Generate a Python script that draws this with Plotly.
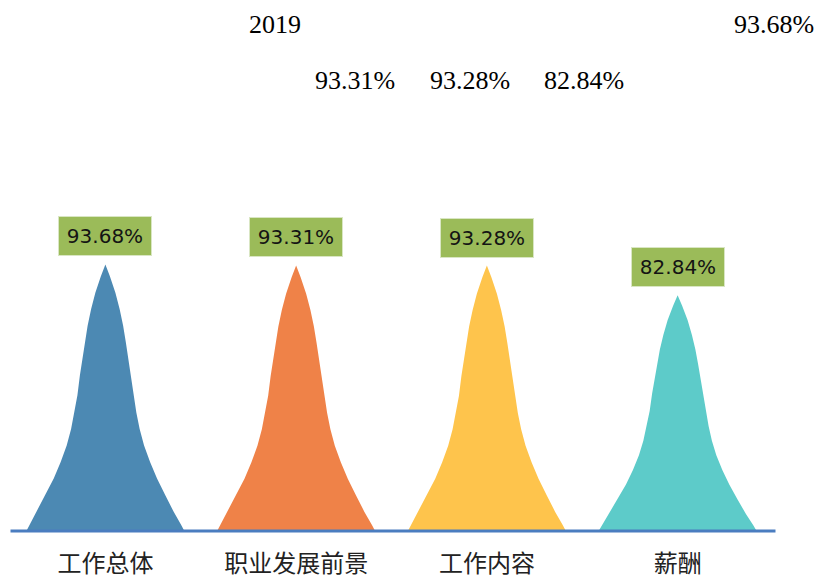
import plotly.graph_objects as go

# data
categories = ["工作总体", "职业发展前景", "工作内容", "薪酬"]
values = [93.68, 93.31, 93.28, 82.84]
labels = ["93.68%", "93.31%", "93.28%", "82.84%"]
colors = ["#4C89B3", "#EF8248", "#FEC44C", "#5DCBC9"]

# stray text at the top of the page
year_text = "2019"
top_right_text = "93.68%"
row_texts = ["93.31%", "93.28%", "82.84%"]

# peak outline (style only): relative height -> relative half width
peak_h = [0.0, 0.022, 0.072, 0.134, 0.197, 0.259, 0.321, 0.383, 0.445, 0.509,
          0.583, 0.646, 0.708, 0.770, 0.832, 0.894, 0.956, 1.0]
peak_w = [1.0, 0.962, 0.865, 0.759, 0.654, 0.566, 0.490, 0.434, 0.392, 0.354,
          0.323, 0.291, 0.259, 0.225, 0.181, 0.127, 0.057, 0.0]
half_width = 0.414

fig = go.Figure()

for i, (v, c) in enumerate(zip(values, colors)):
    xs = [i - w * half_width for w in peak_w] + [i + w * half_width for w in reversed(peak_w[:-1])]
    ys = [h * v for h in peak_h] + [h * v for h in reversed(peak_h[:-1])]
    fig.add_trace(go.Scatter(x=xs, y=ys, mode="lines", fill="toself",
                             fillcolor=c, line=dict(color=c, width=0),
                             hoverinfo="skip", showlegend=False))

for i, (v, t) in enumerate(zip(values, labels)):
    fig.add_annotation(x=i, y=v, text=t, showarrow=False, yanchor="bottom", yshift=8,
                       font=dict(family="DejaVu Sans", size=20, color="#141414"),
                       bgcolor="#9BBB59", bordercolor="#D9E6C3", borderwidth=1,
                       borderpad=7, width=78)

# page body has an 8px margin, so the figure is laid out in page pixels minus 8
OFF = 8
W, H = 826, 582
L, R, T, B = 9.5 - OFF, 60.5, 218 - OFF, 58.5


def px(x):
    return (x - OFF - L) / (W - L - R)


def py(y):
    return (H - B - (y - OFF)) / (H - T - B)


serif = dict(family="Liberation Serif, Times New Roman, serif", size=26, color="#000000")
fig.add_annotation(x=px(275), y=py(OFF), xref="paper", yref="paper", text=year_text,
                   showarrow=False, font=serif, xanchor="center", yanchor="top")
fig.add_annotation(x=px(775), y=py(OFF), xref="paper", yref="paper", text=top_right_text,
                   showarrow=False, font=serif, xanchor="center", yanchor="top")
for xc, t in zip([355, 470, 584], row_texts):
    fig.add_annotation(x=px(xc), y=py(80), xref="paper", yref="paper", text=t,
                       showarrow=False, font=serif, xanchor="center", yanchor="middle")

fig.update_layout(
    width=W, height=H,
    margin=dict(l=L, r=R, t=T, b=B, pad=0),
    paper_bgcolor="white", plot_bgcolor="white",
    xaxis=dict(range=[-0.5, 3.5], tickvals=list(range(len(categories))), ticktext=categories,
               showgrid=False, zeroline=False, showline=False, ticks="",
               tickfont=dict(family="Noto Sans CJK SC", size=24, color="#222222"),
               ticklabelstandoff=16, fixedrange=True),
    yaxis=dict(range=[0, 110], showgrid=False, zeroline=False, showline=False,
               showticklabels=False, fixedrange=True),
    shapes=[dict(type="line", xref="paper", yref="paper", x0=px(10), x1=px(776), y0=py(531.5), y1=py(531.5),
                 line=dict(color="#4A7DC0", width=3))],
)

fig.write_html("out.html")
